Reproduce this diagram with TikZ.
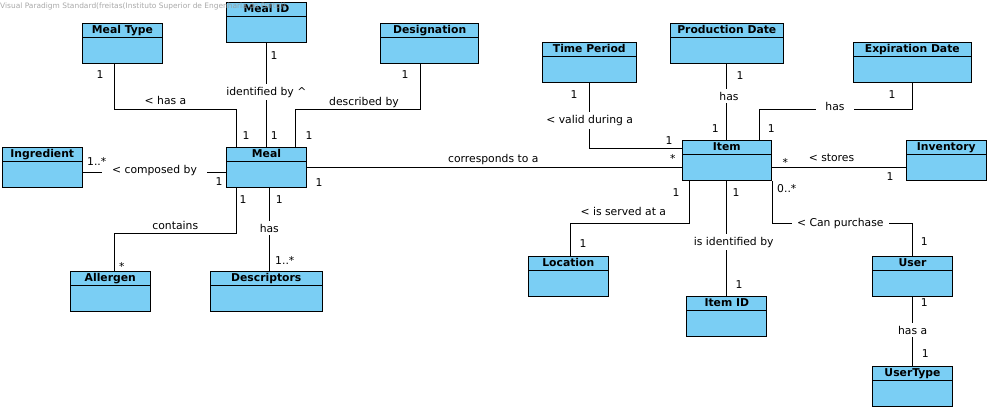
\documentclass[tikz,border=0pt]{standalone}
\usepackage{fontspec}
\setmainfont{DejaVu Sans}
\definecolor{boxblue}{HTML}{7ACEF4}
\definecolor{wmgray}{HTML}{9A9A9A}
\newcommand{\fsz}{\fontsize{10.8pt}{12pt}\selectfont}
\begin{document}
\begin{tikzpicture}[x=1pt,y=-1pt,
  cls/.style={draw=black, line width=1pt, fill=boxblue, minimum height=40pt, inner sep=0pt, minimum width=#1,
    path picture={\draw[line width=1pt] ([yshift=-14pt]path picture bounding box.north west) -- ([yshift=-14pt]path picture bounding box.north east);}},
  ttl/.style={anchor=base, inner sep=0pt, yshift=-11pt, font=\fsz\bfseries},
  conn/.style={draw=black, line width=1pt},
  lab/.style={anchor=base, inner sep=0pt, font=\fsz},
  gap/.style={anchor=base, fill=white, inner xsep=5pt, inner ysep=3pt, font=\fsz},
  mult/.style={anchor=base, inner sep=0pt, font=\fsz},
]
\useasboundingbox (0,0) rectangle (990,410);
\fill[white] (0,0) rectangle (990,410);

% classes
\node[cls=79.6pt] (mealtype) at (122.5,43.3) {};
\node[ttl] (mealtypet) at (mealtype.north) {Meal Type};
\node[cls=79.6pt] (mealid) at (266.5,22.3) {};
\node[ttl] (mealidt) at (mealid.north) {Meal ID};
\node[cls=98pt] (designation) at (429.7,43.3) {};
\node[ttl] (designationt) at (designation.north) {Designation};
\node[cls=80pt] (ingredient) at (42.3,167.3) {};
\node[ttl] (ingredientt) at (ingredient.north) {Ingredient};
\node[cls=79.6pt] (meal) at (266.5,167.3) {};
\node[ttl] (mealt) at (meal.north) {Meal};
\node[cls=80pt] (allergen) at (110.3,291.3) {};
\node[ttl] (allergent) at (allergen.north) {Allergen};
\node[cls=112pt] (descriptors) at (266.3,291.3) {};
\node[ttl] (descriptorst) at (descriptors.north) {Descriptors};
\node[cls=94pt] (timeperiod) at (589.3,62.3) {};
\node[ttl] (timeperiodt) at (timeperiod.north) {Time Period};
\node[cls=113pt] (proddate) at (726.8,43.3) {};
\node[ttl] (proddatet) at (proddate.north) {Production Date};
\node[cls=118pt] (expdate) at (912.3,62.3) {};
\node[ttl] (expdatet) at (expdate.north) {Expiration Date};
\node[cls=89pt] (item) at (726.8,160.3) {};
\node[ttl] (itemt) at (item.north) {Item};
\node[cls=80pt] (inventory) at (946.3,160.3) {};
\node[ttl] (inventoryt) at (inventory.north) {Inventory};
\node[cls=80pt] (location) at (568.3,276.3) {};
\node[ttl] (locationt) at (location.north) {Location};
\node[cls=80pt] (itemid) at (726.8,316.3) {};
\node[ttl] (itemidt) at (itemid.north) {Item ID};
\node[cls=79.6pt] (user) at (912.5,276.3) {};
\node[ttl] (usert) at (user.north) {User};
\node[cls=79.6pt] (usertype) at (912.5,386.3) {};
\node[ttl] (usertypet) at (usertype.north) {UserType};

% connectors
\draw[conn] ([xshift=-7.8pt]mealtype.south) -- ++(0,46) -| ([xshift=-30.2pt]meal.north);
\draw[conn] (mealid.south) -- (mealid.south |- meal.north);
\draw[conn] ([xshift=-9.4pt]designation.south) -- ++(0,46) -| ([xshift=28.8pt]meal.north);
\draw[conn] ([yshift=-5pt]ingredient.east) -- ([yshift=-5pt]meal.west);
\draw[conn] ([xshift=-30.2pt]meal.south) -- ++(0,46) -| ([xshift=4.4pt]allergen.north);
\draw[conn] ([xshift=2.8pt]meal.south) -- ([xshift=3pt]descriptors.north);
\draw[conn] (meal.east) -- (meal.east -| item.west);
\draw[conn] (timeperiod.south) |- ([yshift=12pt]item.west);
\draw[conn] (proddate.south) -- (proddate.south |- item.north);
\draw[conn] (expdate.south) -- ++(0,27) -| ([xshift=32.5pt]item.north);
\draw[conn] ([yshift=-7pt]item.east) -- ([yshift=-7pt]inventory.west);
\draw[conn] ([xshift=-37.5pt]item.south) -- ++(0,42.7) -| ([xshift=2pt]location.north);
\draw[conn] (item.south) -- (item.south |- itemid.north);
\draw[conn] ([xshift=0.5pt]item.south east) -- ++(0,42.7) -| (user.north);
\draw[conn] (user.south) -- (usertype.north);

% association labels
\node[lab] (lhasa) at (165.5,104.3) {< has a};
\node[gap] (lidby) at (266.3,95) {identified by \textasciicircum};
\node[lab] (ldesc) at (364,105) {described by};
\node[gap, inner xsep=10pt] (lcomp) at (154.5,173) {< composed by};
\node[lab] (lcont) at (175.3,229) {contains};
\node[gap] (lhasd) at (269.3,232) {has};
\node[lab] (lcorr) at (493.3,162.7) {corresponds to a};
\node[gap] (lvalid) at (589.7,123.3) {< valid during a};
\node[gap] (lhasp) at (729,100) {has};
\node[gap, inner xsep=9pt] (lhase) at (835,110) {has};
\node[lab] (lstores) at (831.5,161) {< stores};
\node[lab] (lserved) at (623.3,215) {< is served at a};
\node[gap] (lisid) at (733.7,245) {is identified by};
\node[gap] (lpurch) at (840.3,226) {< Can purchase};
\node[gap] (lhasu) at (912.7,334) {has a};

% multiplicities
\node[mult] (m1) at (100,78.5) {1};
\node[mult] (m2) at (246,139.3) {1};
\node[mult] (m3) at (274,59) {1};
\node[mult] (m4) at (274.3,139.3) {1};
\node[mult] (m5) at (405,78) {1};
\node[mult] (m6) at (309,139.3) {1};
\node[mult] (m7) at (96.7,165) {1..*};
\node[mult] (m8) at (219,185.7) {1};
\node[mult] (m9) at (243,203.3) {1};
\node[mult] (m10) at (279.3,203.3) {1};
\node[mult] (m11) at (121.7,270.5) {*};
\node[mult] (m12) at (284.8,264) {1..*};
\node[mult] (m13) at (319,186) {1};
\node[mult] (m14) at (672.7,162) {*};
\node[mult] (m15) at (669,144) {1};
\node[mult] (m16) at (574,98) {1};
\node[mult] (m17) at (740,79) {1};
\node[mult] (m18) at (715.3,132) {1};
\node[mult] (m19) at (771.3,132) {1};
\node[mult] (m20) at (892,98) {1};
\node[mult] (m21) at (785.3,166) {*};
\node[mult] (m22) at (890,180.7) {1};
\node[mult] (m23) at (676,196) {1};
\node[mult] (m24) at (736,196) {1};
\node[mult] (m25) at (786.8,192.7) {0..*};
\node[mult] (m26) at (583,247.7) {1};
\node[mult] (m27) at (739,288) {1};
\node[mult] (m28) at (924.3,245.7) {1};
\node[mult] (m29) at (924.3,306) {1};
\node[mult] (m30) at (925.3,357.7) {1};

% watermark
\node[anchor=base west, inner sep=0pt, font=\fontsize{7.45pt}{8pt}\selectfont, text=wmgray, text opacity=0.85] (wm) at (0,8.5) {Visual Paradigm Standard(freitas(Instituto Superior de Engenharia do Porto))};
\end{tikzpicture}
\end{document}
